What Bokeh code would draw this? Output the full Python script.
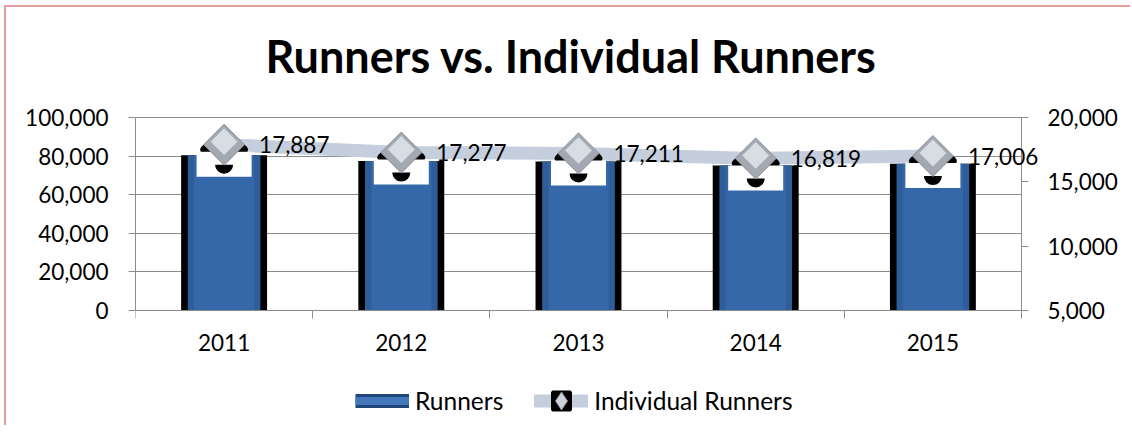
import numpy as np
from bokeh.plotting import figure
from bokeh.models import (Range1d, LinearAxis, FixedTicker, NumeralTickFormatter,
                          ColumnDataSource, LabelSet, Legend, LegendItem)
from bokeh.embed import file_html
from bokeh.resources import INLINE
from bokeh.core.properties import value

# ---- data ----
years = ["2011", "2012", "2013", "2014", "2015"]
runners = [80500, 77500, 77200, 75100, 76000]
individual = [17887, 17277, 17211, 16819, 17006]
left_ticks = [0, 20000, 40000, 60000, 80000, 100000]
right_ticks = [5000, 10000, 15000, 20000]
title_text = "Runners vs. Individual Runners"

# ---- layout (pixels) ----
FL, FR = 135, 5             # frame left, right border
CAT_W = 886                 # pixel width of the category span
FRAME_W = 990
PLOT_TOP, PLOT_BOTTOM = 117, 310     # pixel rows of the value-axis ends
FRAME_TOP, FRAME_BOTTOM = 105, 425
FRAME_H = FRAME_BOTTOM - FRAME_TOP
FONT = "Lato"
GRAY = "#8C8C8C"
PINK = "#E39E9E"

n = len(years)
xs = [i + 0.5 for i in range(n)]
x_end = n * FRAME_W / CAT_W
lmin, lmax = left_ticks[0], left_ticks[-1]
rmin, rmax = right_ticks[0], right_ticks[-1]
upx_l = (lmax - lmin) / (PLOT_BOTTOM - PLOT_TOP)
upx_r = (rmax - rmin) / (PLOT_BOTTOM - PLOT_TOP)
above, below = PLOT_TOP - FRAME_TOP, FRAME_BOTTOM - PLOT_BOTTOM

p = figure(frame_width=FRAME_W, frame_height=FRAME_H, output_backend="svg",
           toolbar_location=None, x_range=Range1d(0, x_end),
           y_range=Range1d(lmin - below * upx_l, lmax + above * upx_l),
           min_border_left=FL, min_border_right=FR, min_border_top=FRAME_TOP,
           min_border_bottom=0, title=title_text)
p.outline_line_color = None
p.background_fill_color = None
p.border_fill_alpha = 0
p.styles = {
    "background": (f"linear-gradient({PINK},{PINK}) 4px 5px / 2px 100% no-repeat, "
                   f"linear-gradient({PINK},{PINK}) 4px 5px / 100% 2px no-repeat, white")
}
p.extra_y_ranges = {"right": Range1d(rmin - below * upx_r, rmax + above * upx_r)}

# title
p.title.align = "left"
p.title.offset = 130
p.title.standoff = 46
p.title.text_font = FONT
p.title.text_font_size = "45px"
p.title.text_font_style = "bold"
p.title.text_color = "black"

# x axis, drawn at value 0
xa = p.xaxis[0]
xa.fixed_location = lmin
xa.ticker = FixedTicker(ticks=xs, minor_ticks=list(range(n + 1)))
xa.major_label_overrides = {x: y for x, y in zip(xs, years)}
xa.bounds = (0, n)
xa.major_tick_out = 0
xa.major_tick_in = 0
xa.minor_tick_out = 8
xa.minor_tick_in = 0
xa.minor_tick_line_color = GRAY
xa.axis_line_color = GRAY
xa.major_label_standoff = 15
xa.major_label_text_font = FONT
xa.major_label_text_font_size = "22.5px"
xa.major_label_text_color = "black"

# left axis
ya = p.yaxis[0]
ya.ticker = FixedTicker(ticks=left_ticks)
ya.formatter = NumeralTickFormatter(format="0,0")
ya.bounds = (lmin, lmax)
ya.major_tick_out = 7
ya.major_tick_in = 0
ya.minor_tick_out = 0
ya.minor_tick_in = 0
ya.axis_line_color = GRAY
ya.major_tick_line_color = GRAY
ya.major_label_standoff = 20
ya.major_label_text_font = FONT
ya.major_label_text_font_size = "22.5px"
ya.major_label_text_color = "black"

# right axis, drawn at the end of the last category
ra = LinearAxis(y_range_name="right", ticker=FixedTicker(ticks=right_ticks),
                formatter=NumeralTickFormatter(format="0,0"), fixed_location=n,
                bounds=(rmin, rmax))
ra.major_tick_out = 7
ra.major_tick_in = 0
ra.minor_tick_out = 0
ra.minor_tick_in = 0
ra.axis_line_color = GRAY
ra.major_tick_line_color = GRAY
ra.major_label_standoff = 19
ra.major_label_text_font = FONT
ra.major_label_text_font_size = "22.5px"
ra.major_label_text_color = "black"
p.add_layout(ra, "right")

p.xgrid.visible = False
yg = p.ygrid[0]
yg.ticker = FixedTicker(ticks=left_ticks)
yg.grid_line_color = GRAY
yg.grid_line_width = 1
if "cross_bounds" in yg.properties():
    yg.cross_bounds = (0, n)

# ---- bars ----
p.vbar(x=xs, top=runners, bottom=0, width=0.485, fill_color="black", line_color=None)
p.vbar(x=xs, top=runners, bottom=0, width=0.41, fill_color="#2E5D9A", line_color=None)
p.vbar(x=xs, top=runners, bottom=0, width=0.34, fill_color="#3568A8", line_color=None)

# ---- line series ----
r_line = p.line(xs, individual, y_range_name="right", line_width=13,
                line_color="#C5CEDD", line_cap="round", line_join="round")
p.ellipse(x=xs, y=[v - 5 * upx_r for v in individual], width=48, height=18,
          width_units="screen", height_units="screen", fill_color="black",
          line_color=None, y_range_name="right")
p.rect(x=xs, y=[v - 19.5 * upx_r for v in individual], width=55, height=25,
       width_units="screen", height_units="screen", fill_color="white",
       line_color=None, y_range_name="right")
p.wedge(x=xs, y=[v - 20 * upx_r for v in individual], radius=9, radius_units="screen",
        start_angle=np.pi, end_angle=2 * np.pi, fill_color="black", line_color=None,
        y_range_name="right")
r_dia = p.scatter(xs, individual, marker="square", angle=np.pi / 4, size=29,
                  fill_color="#A3A8B2", line_color="#8A8F98", line_width=1,
                  y_range_name="right")
p.scatter(xs, [v + 3 * upx_r for v in individual], marker="square", angle=np.pi / 4,
          size=19, fill_color="#D8DCE3", line_color=None, y_range_name="right")

src = ColumnDataSource(dict(x=xs, y=individual, label=[f"{v:,}" for v in individual]))
p.add_layout(LabelSet(x="x", y="y", text="label", source=src, y_range_name="right",
                      x_offset=35, text_baseline="middle", text_align="left",
                      text_font=value(FONT), text_font_size=value("22.5px"),
                      text_color="black"))

# ---- legend (legend-only swatches), inside the lower part of the frame ----
nan = [np.nan]
r_run_dark = p.line(nan, nan, line_width=14, line_color="#1E4678")
r_run_light = p.line(nan, nan, line_width=8, line_color="#4477BA")
r_blk = p.scatter(nan, nan, marker="square", fill_color="black", line_color="black",
                  line_width=3)
r_ldia = p.scatter(nan, nan, marker="diamond", fill_color="#CDD1D8",
                   line_color="#8A8F98", line_width=1)
legend = Legend(items=[LegendItem(label="Runners", renderers=[r_run_dark, r_run_light]),
                       LegendItem(label="Individual Runners",
                                  renderers=[r_line, r_blk, r_ldia])],
                orientation="horizontal", location=(220, 2),
                glyph_width=54, glyph_height=45, label_standoff=6, spacing=31,
                padding=0, margin=0, border_line_color=None,
                background_fill_alpha=0, label_text_font=FONT,
                label_text_font_size="24.5px", label_text_color="black")
p.add_layout(legend)

open("out.html", "w").write(file_html(p, INLINE))
